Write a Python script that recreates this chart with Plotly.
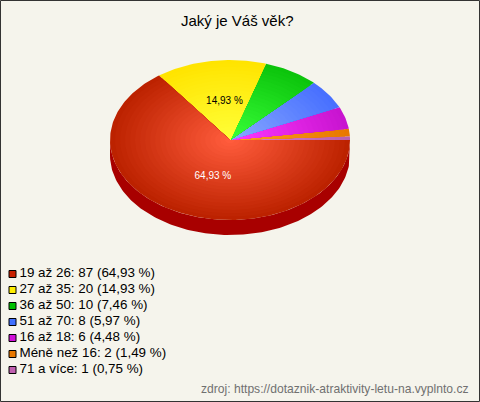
import numpy as np
import plotly.graph_objects as go

title = "Jaký je Váš věk?"
source = "zdroj: https://dotaznik-atraktivity-letu-na.vyplnto.cz"
categories = ["19 až 26", "27 až 35", "36 až 50", "51 až 70", "16 až 18", "Méně než 16", "71 a více"]
counts = [87, 20, 10, 8, 6, 2, 1]
percents = ["64,93", "14,93", "7,46", "5,97", "4,48", "1,49", "0,75"]
legend_colors = ["#c82000", "#ffee00", "#00c000", "#4070ff", "#d010d8", "#e87800", "#c060b0"]
edge_colors = ["#bc2200", "#ffe400", "#0cc40c", "#4870ff", "#c814d0", "#e87800", "#b860b0"]
inner_colors = ["#ff5c3c", "#ffff38", "#38ff38", "#88a8ff", "#ff38ff", "#ffa020", "#e080d0"]
wall_color = "#a80000"
bg = "#f5f4ec"
W, H = 480, 402
DEPTH = 15 / 80
RINGS = 24


def mix(c0, c1, f):
    a = [int(c0[k:k + 2], 16) for k in (1, 3, 5)]
    b = [int(c1[k:k + 2], 16) for k in (1, 3, 5)]
    return "rgb(%d,%d,%d)" % tuple(round(p + (q - p) * f) for p, q in zip(a, b))


total = sum(counts)
fig = go.Figure()

# Walk counter-clockwise from east, last category first, as the pie does.
start = 0.0
wedges = []
for i in range(len(counts) - 1, -1, -1):
    end = start + counts[i] / total * 2 * np.pi
    wedges.append((i, start, end))
    start = end

# side wall (front half only)
for i, a0, a1 in wedges:
    lo, hi = max(a0, np.pi), min(a1, 2 * np.pi)
    if hi <= lo:
        continue
    t = np.linspace(lo, hi, 160)
    x = np.concatenate([np.cos(t), np.cos(t[::-1])])
    y = np.concatenate([np.sin(t), np.sin(t[::-1]) - DEPTH])
    fig.add_trace(go.Scatter(x=x, y=y, mode="lines", line=dict(width=0), fill="toself",
                             fillcolor=wall_color, hoverinfo="skip", showlegend=False))

# top face: each slice is stacked from the rim inward to build its radial shading
for i, a0, a1 in wedges:
    t = np.linspace(a0, a1, max(6, int((a1 - a0) * 60)))
    for k in range(RINGS):
        r = 1 - k / RINGS
        x = np.concatenate([[0], r * np.cos(t), [0]])
        y = np.concatenate([[0], r * np.sin(t), [0]])
        fig.add_trace(go.Scatter(
            x=x, y=y, mode="lines", line=dict(width=0), fill="toself",
            fillcolor=mix(edge_colors[i], inner_colors[i], k / (RINGS - 1)),
            name=categories[i], hoverinfo="name", showlegend=False))

# percent labels on the large slices
for i, a0, a1 in wedges:
    if counts[i] / total < 0.1:
        continue
    m = (a0 + a1) / 2
    fig.add_trace(go.Scatter(
        x=[np.cos(m) / 3 + 1 / 120], y=[0.5 * np.sin(m) - 0.015], mode="text",
        text=[percents[i] + " %"], textposition="middle center",
        textfont=dict(family="Liberation Sans", size=10, color="#ffffff" if i == 0 else "#000000"),
        hoverinfo="skip", showlegend=False))

# legend rows
rows = list(range(len(categories)))
fig.add_trace(go.Scatter(
    x=[12.5] * len(rows), y=rows, xaxis="x2", yaxis="y2", mode="markers",
    marker=dict(symbol="square", size=7, color=legend_colors, line=dict(color="#000000", width=1)),
    hoverinfo="skip", showlegend=False))
fig.add_trace(go.Scatter(
    x=[19.5] * len(rows), y=rows, xaxis="x2", yaxis="y2", mode="text",
    text=["%s: %d (%s %%)" % (c, n, p) for c, n, p in zip(categories, counts, percents)],
    textposition="middle right",
    textfont=dict(family="Liberation Sans", size=13.4, color="#000000"),
    hoverinfo="skip", showlegend=False))

hidden = dict(visible=False, fixedrange=True)
fig.update_layout(
    width=W, height=H, margin=dict(l=0, r=0, t=0, b=0),
    autosize=False, paper_bgcolor=bg, plot_bgcolor=bg, showlegend=False,
    xaxis=dict(range=[(0 - 230) / 120, (W - 230) / 120], domain=[0, 1], **hidden),
    yaxis=dict(range=[(140 - H) / 80, 140 / 80], domain=[0, 1], **hidden),
    xaxis2=dict(range=[0, W], domain=[0, 1], anchor="y2", **hidden),
    yaxis2=dict(range=[6.5, -0.5], domain=[1 - 378 / H, 1 - 266 / H], anchor="x2", **hidden),
    annotations=[
        dict(text=title, x=237.5 / W, y=1 - 20 / H, xref="paper", yref="paper", showarrow=False,
             xanchor="center", yanchor="middle", font=dict(family="Liberation Sans", size=15, color="#000000")),
        dict(text=source, x=470.5 / W, y=1 - 389 / H, xref="paper", yref="paper", showarrow=False,
             xanchor="right", yanchor="middle", font=dict(family="Liberation Sans", size=12.1, color="#707070")),
    ],
    shapes=[dict(type="rect", xref="paper", yref="paper", x0=0.5 / W, x1=1 - 0.5 / W,
                 y0=0.5 / H, y1=1 - 0.5 / H, line=dict(color="#333333", width=1), fillcolor="rgba(0,0,0,0)")],
)
fig.write_html("out.html", config={"displayModeBar": False},
               post_script="document.body.style.margin='0';document.body.style.overflow='hidden';")
